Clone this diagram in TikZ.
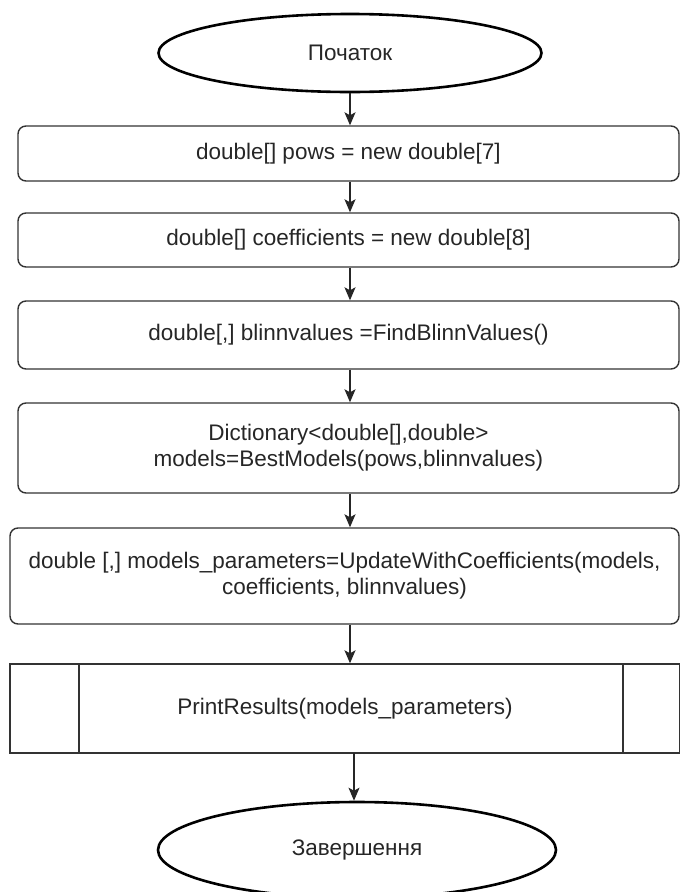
\documentclass[tikz,border=0pt]{standalone}
\usepackage{fontspec}
\setmainfont{Liberation Sans}
\usetikzlibrary{shapes.geometric,arrows.meta}
\begin{document}
\begin{tikzpicture}[x=1pt,y=-1pt,
  every node/.style={font=\fontsize{22.5}{26}\selectfont, text=black!85, align=center, inner sep=0pt},
  procbox/.style={draw=black!80, line width=1.4pt, rounded corners=8pt, rectangle},
  termin/.style={draw=black, line width=2.6pt, ellipse},
  predef/.style={draw=black!80, line width=1.4pt, rectangle},
  flow/.style={draw=black!85, line width=1.4pt, -{Stealth[length=13pt,width=11pt,inset=3pt]}}]
\useasboundingbox (0,0) rectangle (680,892);
\clip (0,0) rectangle (680,892);
\node[termin, minimum width=383pt, minimum height=78pt] (e1) at (350,53) {Початок};
\node[procbox, minimum width=661pt, minimum height=55pt] (b1) at (348.5,153.5) {double[] pows = new double[7]};
\node[procbox, minimum width=661pt, minimum height=54pt] (b2) at (348.5,240) {double[] coefficients = new double[8]};
\node[procbox, minimum width=661pt, minimum height=68pt] (b3) at (348.5,335) {double[,] blinnvalues =FindBlinnValues()};
\node[procbox, minimum width=661pt, minimum height=90pt] (b4) at (348.5,448) {Dictionary<double[],double>\\models=BestModels(pows,blinnvalues)};
\node[procbox, minimum width=669pt, minimum height=96pt] (b5) at (344.5,576) {double [,] models\_parameters=UpdateWithCoefficients(models,\\coefficients, blinnvalues)};
\node[predef, minimum width=670pt, minimum height=89pt] (b6) at (345,708.5) {PrintResults(models\_parameters)};
\draw[black!80, line width=1.4pt] (79,664) -- (79,753) (623,664) -- (623,753);
\node[termin, minimum width=398pt, minimum height=96pt] (e2) at (357,850) {Завершення};
\draw[flow] (e1.south) -- (e1.south |- b1.north);
\draw[flow] (e1.south |- b1.south) -- (e1.south |- b2.north);
\draw[flow] (e1.south |- b2.south) -- (e1.south |- b3.north);
\draw[flow] (e1.south |- b3.south) -- (e1.south |- b4.north);
\draw[flow] (e1.south |- b4.south) -- (e1.south |- b5.north);
\draw[flow] (e1.south |- b5.south) -- (e1.south |- b6.north);
\coordinate (a7) at (354,753);
\draw[flow] (a7) -- (a7 |- e2.north);
\end{tikzpicture}
\end{document}
